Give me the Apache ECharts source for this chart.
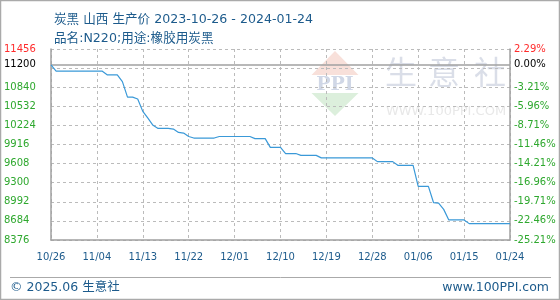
<!DOCTYPE html>
<html><head><meta charset="utf-8">
<script src="https://cdn.jsdelivr.net/npm/echarts@6/dist/echarts.min.js"></script>
<style>html,body{margin:0;padding:0;background:#fff}#c{width:560px;height:300px}</style>
</head><body><div id="c"></div>
<script>
// ---- data ----
const titleLine1 = '炭黑 山西 生产价 2023-10-26 - 2024-01-24';
const titleLine2 = '品名:N220;用途:橡胶用炭黑';
const footerLeft = '© 2025.06 生意社';
const footerRight = 'www.100PPI.com';
const startDate = [2023, 10, 26];
const prices = [
  11200,
  11100, 11100, 11100, 11100, 11100, 11100, 11100, 11100, 11100, 11100,
  11040, 11040, 11040,
  10930,
  10680, 10680,
  10650, 10450, 10340, 10225,
  10175, 10175, 10175,
  10165, 10110, 10100, 10045,
  10020, 10020, 10020, 10020, 10020,
  10045, 10045, 10045, 10045, 10045, 10045, 10045,
  10010, 10010, 10010,
  9870, 9870, 9870,
  9770, 9770, 9770,
  9740, 9740, 9740, 9740,
  9700, 9700, 9700, 9700, 9700, 9700, 9700, 9700, 9700, 9700, 9700,
  9640, 9640, 9640, 9640,
  9580, 9580, 9580, 9580,
  9240, 9240, 9240,
  8980, 8970, 8870,
  8700, 8700, 8700, 8700,
  8640, 8640, 8640, 8640, 8640, 8640, 8640, 8640, 8640
];
const basePrice = 11200;
const yMin = 8376, yMax = 11456, yStep = 308;
const yLabelValues = [8376, 8684, 8992, 9300, 9608, 9916, 10224, 10532, 10840, 11200, 11456];

// ---- categories (one per day) ----
const dates = [];
{
  const d0 = new Date(Date.UTC(startDate[0], startDate[1] - 1, startDate[2]));
  for (let i = 0; i < prices.length; i++) {
    const d = new Date(d0.getTime() + i * 86400000);
    dates.push(String(d.getUTCMonth() + 1).padStart(2, '0') + '/' + String(d.getUTCDate()).padStart(2, '0'));
  }
}

const FONT = '"DejaVu Sans", "Noto Sans CJK SC", sans-serif';
const BLUE_TEXT = '#1d5b8c';
const GRID_C = '#bbbbbb';
const AXIS_C = '#a0a0a0';
const labelColor = v => { v = Number(v); return v === basePrice ? '#000000' : (v > basePrice ? '#ff2b2b' : '#2ea82e'); };

const chart = echarts.init(document.getElementById('c'), null, { renderer: 'canvas' });
chart.setOption({
  animation: false,
  title: {
    text: titleLine1 + '\n' + titleLine2,
    left: 49, top: 5,
    textStyle: { fontFamily: FONT, fontSize: 12.6, fontWeight: 'normal', color: BLUE_TEXT, lineHeight: 19 }
  },
  grid: { left: 51, right: 50, top: 49, bottom: 60, containLabel: false },
  xAxis: {
    type: 'category', data: dates, boundaryGap: false,
    axisLine: { show: true, lineStyle: { color: AXIS_C, width: 1.5 } },
    axisTick: { show: false },
    axisLabel: { interval: 8, color: BLUE_TEXT, fontFamily: FONT, fontSize: 10, margin: 12 },
    splitLine: { show: true, interval: 8, lineStyle: { color: GRID_C, type: [3, 3], width: 1 } }
  },
  yAxis: [{
    type: 'value', position: 'left', min: yMin, max: yMax, interval: yStep,
    axisLine: { show: true, lineStyle: { color: AXIS_C, width: 1.5 } },
    axisTick: { show: false },
    axisLabel: { customValues: yLabelValues, align: 'left', margin: 47, fontFamily: FONT, fontSize: 10, color: labelColor, formatter: v => String(v) },
    splitLine: { show: true, lineStyle: { color: GRID_C, type: [3, 3], width: 1 } }
  }, {
    type: 'value', position: 'right', min: yMin, max: yMax, interval: yStep,
    axisLine: { show: true, lineStyle: { color: AXIS_C, width: 1.5 } },
    axisTick: { show: false },
    axisLabel: {
      customValues: yLabelValues, align: 'left', margin: 4, fontFamily: FONT, fontSize: 10, color: labelColor,
      formatter: v => ((v / basePrice - 1) * 100).toFixed(2) + '%'
    },
    splitLine: { show: false }
  }],
  series: [{
    type: 'line', data: prices, yAxisIndex: 0, symbol: 'none', smooth: false, z: 5,
    lineStyle: { color: '#3a99d8', width: 1.2 },
    markLine: {
      silent: true, symbol: ['none', 'none'], label: { show: false },
      lineStyle: { color: AXIS_C, type: 'solid', width: 1.5 },
      data: [{ yAxis: basePrice }]
    }
  }],
  graphic: [
    { type: 'rect', z: 100, shape: { x: 0.5, y: 0.5, width: 559, height: 299 }, style: { fill: null, stroke: '#aaaaaa', lineWidth: 1.5 } },
    { type: 'line', z: 100, shape: { x1: 10, y1: 277.5, x2: 551, y2: 277.5 }, style: { stroke: '#aaaaaa', lineWidth: 1 } },
    { type: 'text', z: 100, x: 10, y: 288, style: { text: footerLeft, font: '12.5px ' + FONT, fill: BLUE_TEXT, verticalAlign: 'middle', align: 'left' } },
    { type: 'text', z: 100, x: 549, y: 288, style: { text: footerRight, font: '12.5px ' + FONT, fill: BLUE_TEXT, verticalAlign: 'middle', align: 'right' } },
    // watermark
    { type: 'polygon', z: -10, shape: { points: [[335, 51], [311.5, 75], [358.5, 75]] }, style: { fill: '#f8e0da' } },
    { type: 'polygon', z: -10, shape: { points: [[311.5, 93], [358.5, 93], [335, 116]] }, style: { fill: '#dcefdc' } },
    { type: 'text', z: -10, x: 335, y: 85, style: { text: 'PPI', font: 'bold 19px "DejaVu Serif", serif', fill: '#d0d7e6', align: 'center', verticalAlign: 'middle' } },
    { type: 'text', z: -10, x: 401, y: 72, style: { text: '生', font: '32px "Noto Sans CJK SC"', fill: '#dadee8', align: 'center', verticalAlign: 'middle' } },
    { type: 'text', z: -10, x: 444, y: 72, style: { text: '意', font: '32px "Noto Sans CJK SC"', fill: '#dadee8', align: 'center', verticalAlign: 'middle' } },
    { type: 'text', z: -10, x: 490, y: 72, style: { text: '社', font: '32px "Noto Sans CJK SC"', fill: '#dadee8', align: 'center', verticalAlign: 'middle' } },
    { type: 'text', z: -10, x: 446, y: 112, style: { text: 'WWW.100PPI.COM', font: '13px "DejaVu Sans"', fill: '#e8e8e8', align: 'center', verticalAlign: 'middle' } }
  ]
});
</script>
</body></html>
